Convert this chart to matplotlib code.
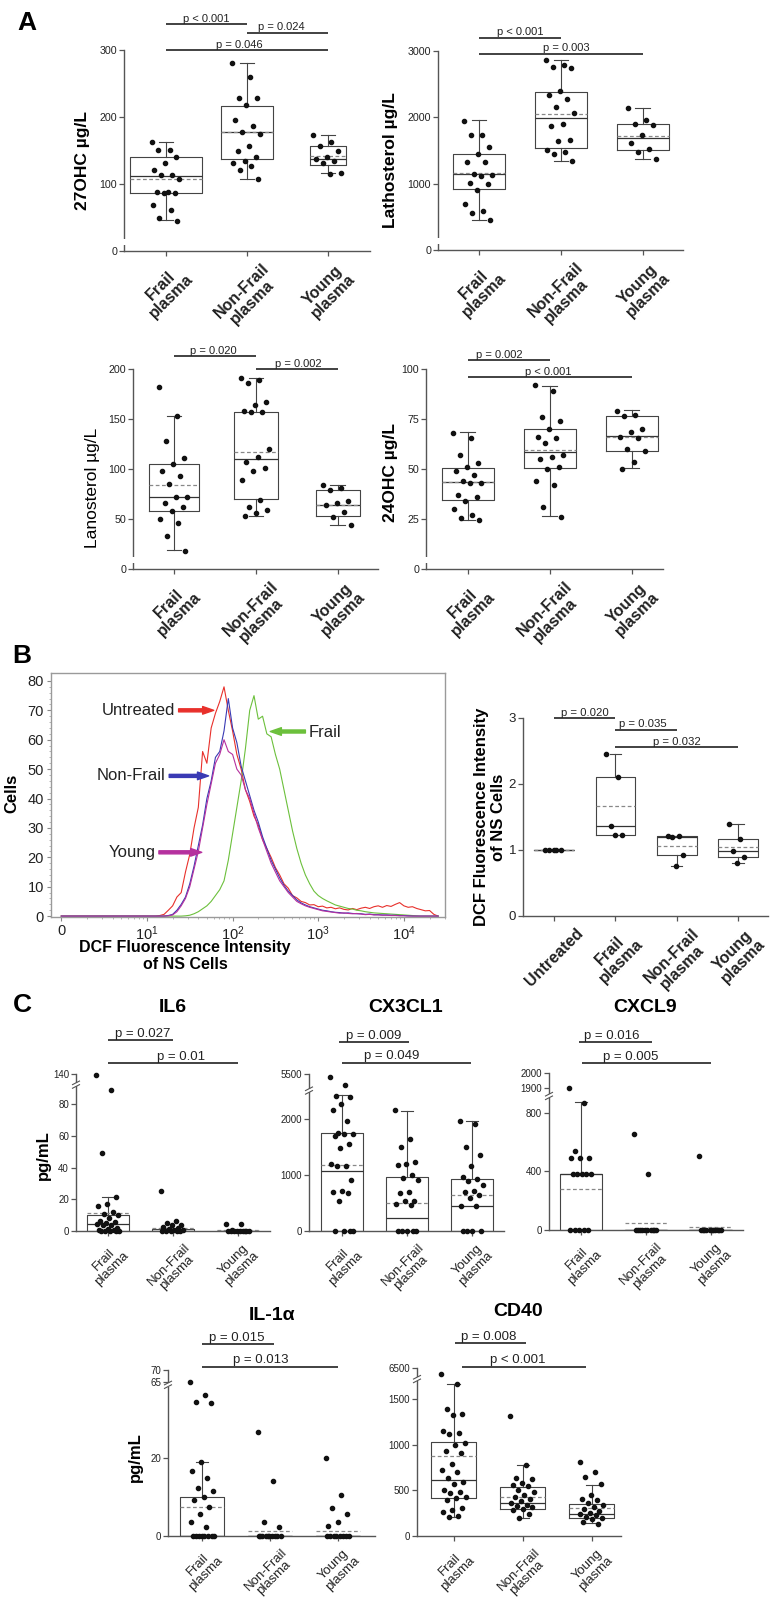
import numpy as np
import matplotlib
matplotlib.use("Agg")
import matplotlib.pyplot as plt
from matplotlib.transforms import blended_transform_factory

plt.rcParams["font.family"] = ["Liberation Sans", "DejaVu Sans"]
plt.rcParams["mathtext.fontset"] = "custom"
plt.rcParams["mathtext.rm"] = "Liberation Sans"
plt.rcParams["mathtext.it"] = "Liberation Sans:italic"
plt.rcParams["mathtext.bf"] = "Liberation Sans:bold"

# ---------------- data ----------------
groups = ["Frail\nplasma", "Non-Frail\nplasma", "Young\nplasma"]

# panel A: points per group, box = [q1, median, q3, whisker low, whisker high, mean]
oh27_pts = [[163, 151, 151, 140, 132, 121, 113, 113, 108, 88, 88, 87, 87, 68, 61, 50, 45],
            [280, 259, 229, 229, 218, 195, 187, 177, 175, 157, 149, 141, 135, 131, 127, 121, 108],
            [173, 163, 156, 150, 141, 138, 135, 131, 117, 115]]
oh27_box = [[86, 112, 140, 47, 163, 108], [137, 177, 216, 108, 280, 178], [129, 137, 156, 116, 173, 142]]
oh27_p = ["p < 0.001", "p = 0.024", "p = 0.046"]

lath_pts = [[1950, 1735, 1735, 1550, 1440, 1330, 1320, 1150, 1130, 1110, 1010, 1000, 910, 700, 590, 560, 450],
            [2860, 2790, 2760, 2740, 2390, 2340, 2280, 2160, 2065, 1905, 1875, 1655, 1640, 1505, 1480, 1445, 1345],
            [2140, 1955, 1905, 1880, 1735, 1615, 1520, 1480, 1365]]
lath_box = [[913, 1139, 1440, 452, 1957, 1154], [1535, 1997, 2383, 1340, 2870, 2047], [1505, 1681, 1906, 1365, 2142, 1716]]
lath_p = ["p < 0.001", "p = 0.003"]

lano_pts = [[182, 153, 128, 111, 105, 98, 93, 85, 72, 72, 66, 62, 58, 50, 46, 33, 18],
            [191, 189, 186, 167, 164, 158, 157, 157, 120, 112, 107, 101, 98, 89, 69, 62, 59, 56, 53],
            [84, 81, 79, 68, 66, 64, 57, 52, 44]]
lano_box = [[58, 72, 105, 19, 153, 84], [70, 110, 157, 53, 191, 117], [53, 64, 79, 44, 84, 64]]
lano_p = ["p = 0.020", "p = 0.002"]

oh24_pts = [[68, 65.5, 57, 53, 51, 49, 47, 44, 43, 43, 37, 36, 34, 30, 27, 25.5, 24.5],
            [92, 89, 76, 74, 70, 66, 65.5, 63, 57, 56, 55, 51, 50, 44, 42, 31, 26],
            [79, 77, 76.5, 70, 68.5, 66, 65.5, 60, 59, 53.5, 50]]
oh24_box = [[34.3, 43.7, 50.7, 24.7, 68.3, 43.5], [50.7, 58.5, 70.2, 26.3, 91.7, 59.5], [59.2, 66.7, 76.7, 50.3, 79.3, 66]]
oh24_p = ["p = 0.002", "p < 0.001"]

# panel B: flow cytometry histogram (x = log10 fluorescence)
hist_log = [0.0, 1.00, 1.05, 1.10, 1.15, 1.20, 1.25, 1.30, 1.35, 1.40,
            1.45, 1.50, 1.55, 1.60, 1.65, 1.70, 1.75, 1.80, 1.85, 1.90,
            1.95, 2.00, 2.05, 2.10, 2.15, 2.20, 2.25, 2.30, 2.35, 2.40,
            2.45, 2.50, 2.55, 2.60, 2.65, 2.70, 2.75, 2.80, 2.85, 2.90,
            2.95, 3.00, 3.05, 3.10, 3.15, 3.20, 3.25, 3.30, 3.35, 3.40,
            3.45, 3.50, 3.55, 3.60, 3.65, 3.70, 3.75, 3.80, 3.85, 3.90,
            3.95, 4.00, 4.05, 4.10, 4.15, 4.20, 4.25, 4.30, 4.35, 4.40]
cells_untreated = [0, 0, 0, 0, 0.2, 0.6, 2, 3.5, 6.5, 8,
                   15, 21, 30, 37, 56, 52, 64, 69, 73, 78,
                   70, 63, 55, 50, 43, 39, 34, 31, 26, 23,
                   20, 16.5, 14, 11, 9.5, 7, 6.2, 5, 4.6, 3.8,
                   3.9, 3.2, 3.4, 2.8, 3.0, 2.5, 2.8, 2.3, 2.1, 2.6,
                   2.2, 2.7, 3.0, 2.6, 3.2, 3.5, 3.0, 3.6, 3.3, 4.0,
                   4.6, 3.5, 3.0, 3.2, 2.6, 2.2, 1.8, 1.9, 0.6, 0]
cells_frail = [0, 0, 0, 0, 0, 0, 0, 0, 0, 0,
               0.1, 0.3, 0.8, 1.5, 2.5, 3.5, 5, 7, 9, 12,
               19, 28, 37, 46, 57, 70, 75, 67, 68, 62,
               61, 55, 50, 43, 36, 29, 23, 18, 14, 11,
               8.5, 7, 6, 5.2, 4.5, 3.8, 3.4, 3, 2.6, 2.4,
               2.0, 1.8, 1.5, 1.3, 1.1, 1.0, 0.9, 0.8, 0.7, 0.6,
               0.5, 0.4, 0.3, 0.2, 0.1, 0, 0, 0, 0, 0]
cells_nonfrail = [0, 0, 0, 0, 0, 0, 0.2, 0.6, 2, 4,
                  6.5, 11, 17, 24, 31, 40, 46, 54, 56, 63,
                  74, 64, 59, 51, 46, 41, 36, 32, 27, 23,
                  19, 16, 13, 10.5, 8.5, 7, 5.5, 4.5, 3.8, 3.2,
                  2.8, 2.4, 2.0, 1.8, 1.5, 1.3, 1.2, 1.0, 1.1, 0.9,
                  0.8, 0.8, 0.6, 0.7, 0.5, 0.5, 0.4, 0.4, 0.3, 0.3,
                  0.2, 0.2, 0.1, 0, 0, 0, 0, 0, 0, 0]
cells_young = [0, 0, 0, 0, 0, 0, 0.1, 0.4, 1.5, 3.5,
               6, 10, 16, 22, 30, 38, 45, 52, 55, 60,
               56, 55, 50, 48, 43, 40, 35, 30, 26, 22,
               18, 15, 12, 10, 8, 6.5, 5, 4.2, 3.5, 3,
               2.6, 2.2, 1.8, 1.6, 1.4, 1.2, 1.0, 1.1, 0.9, 0.8,
               0.9, 0.7, 0.5, 0.6, 0.4, 0.4, 0.3, 0.3, 0.2, 0.2,
               0.1, 0.1, 0, 0, 0, 0, 0, 0, 0, 0]
hist_labels = ["Untreated", "Frail", "Non-Frail", "Young"]
hist_colors = ["#e8302b", "#6cc03c", "#3a3ab4", "#b5309e"]

dcf_groups = ["Untreated", "Frail\nplasma", "Non-Frail\nplasma", "Young\nplasma"]
dcf_pts = [[1, 1, 1, 1, 1], [2.45, 2.1, 1.37, 1.23, 1.23], [1.21, 1.21, 1.19, 0.93, 0.76], [1.39, 1.17, 0.99, 0.9, 0.8]]
dcf_box = [[1, 1, 1, 1, 1, 1], [1.23, 1.37, 2.1, 1.23, 2.45, 1.67], [0.93, 1.2, 1.21, 0.76, 1.21, 1.06],
           [0.9, 0.98, 1.16, 0.8, 1.39, 1.05]]
dcf_p = ["p = 0.020", "p = 0.035", "p = 0.032"]

# panel C: cytokines (pg/mL)
il6_pts = [[138, 89, 49, 21.5, 17, 16, 12, 11, 10, 8, 6, 5.5, 5, 4.5, 4, 3.5, 2, 1, 0.5, 0.5, 0.3, 0.2, 0.1, 0, 0],
           [25, 6.5, 5, 4, 3.5, 2.5, 2, 1, 0.5, 0.5, 0.3, 0.2, 0, 0, 0],
           [4.5, 4.5, 0.5, 0.3, 0.2, 0, 0, 0, 0, 0, 0, 0]]
il6_box = [[0, 4.2, 9.9, 0, 21.7, 11.2], [0, 0.3, 1.0, 0, 1.0, 1.6], [0, 0, 0.2, 0, 0.2, 0.4]]
il6_p = ["p = 0.027", "p = 0.01"]

cx3_pts = [[5000, 3800, 2410, 2390, 2260, 2150, 1960, 1740, 1730, 1720, 1700, 1550, 1480, 1190, 1160, 1150,
            900, 720, 700, 680, 530, 0, 0, 0, 0],
           [2150, 1640, 1490, 1220, 1190, 1170, 1000, 940, 900, 700, 680, 540, 530, 475, 460, 0, 0, 0, 0, 0],
           [1950, 1910, 1490, 1360, 1160, 955, 920, 890, 820, 720, 700, 640, 580, 450, 440, 0, 0, 0, 0]]
cx3_box = [[0, 1060, 1740, 0, 2430, 1175], [0, 231, 961, 0, 2142, 492], [0, 451, 920, 0, 1964, 641]]
cx3_p = ["p = 0.009", "p = 0.049"]

cxcl9_pts = [[1900, 870, 540, 490, 490, 490, 380, 380, 380, 380, 380, 0, 0, 0, 0, 0],
             [655, 380, 0, 0, 0, 0, 0, 0, 0, 0, 0, 0],
             [505, 0, 0, 0, 0, 0, 0, 0, 0, 0, 0, 0]]
cxcl9_box = [[0, 380, 380, 0, 871, 280], [0, 0, 0, 0, 0, 45], [0, 0, 0, 0, 0, 20]]
cxcl9_p = ["p = 0.016", "p = 0.005"]

il1a_pts = [[65, 36, 34.3, 33.9, 19, 16.7, 14.9, 12.3, 11.5, 9.9, 9.2, 7.3, 5.5, 3.7, 2.4, 0, 0, 0, 0, 0, 0, 0, 0],
            [26.6, 14, 3.7, 2.4, 0, 0, 0, 0, 0, 0, 0, 0, 0, 0],
            [19.8, 10.4, 7.1, 5.6, 3.7, 2.6, 0, 0, 0, 0, 0, 0, 0, 0]]
il1a_box = [[0, 0, 9.9, 0, 18.9, 7.3], [0, 0, 0, 0, 0, 1.3], [0, 0, 0, 0, 0, 1.4]]
il1a_p = ["p = 0.015", "p = 0.013"]

cd40_pts = [[6250, 1660, 1390, 1340, 1320, 1145, 1130, 1120, 1015, 995, 930, 910, 790, 720, 700, 630, 595, 565,
             505, 485, 470, 430, 420, 395, 305, 285, 265, 220, 210],
            [1315, 775, 630, 620, 575, 555, 545, 505, 480, 450, 425, 410, 385, 360, 340, 330, 315, 295, 280, 240, 200],
            [815, 700, 645, 565, 445, 410, 395, 365, 340, 315, 295, 270, 250, 245, 225, 205, 200, 185, 155, 135]]
cd40_box = [[420, 617, 1023, 212, 1662, 870], [296, 358, 537, 201, 775, 424], [201, 237, 347, 139, 559, 303]]
cd40_p = ["p = 0.008", "p < 0.001"]

# ---------------- helpers ----------------
W, H = 772, 1605
fig = plt.figure(figsize=(W / 100, H / 100), dpi=100)
AX = "#555555"


def px_axes(left, right, top, bottom):
    return fig.add_axes([left / W, 1 - bottom / H, (right - left) / W, (bottom - top) / H])


def px_text(x, y, s, **kw):
    fig.text(x / W, 1 - y / H, s, **kw)


def style(ax, xlim, yticks, ylim, ysize):
    ax.set_xlim(*xlim)
    ax.set_yticks(yticks)
    ax.set_ylim(*ylim)
    ax.spines[["top", "right"]].set_visible(False)
    for s in ["left", "bottom"]:
        ax.spines[s].set_color(AX)
        ax.spines[s].set_linewidth(1.0)
    ax.tick_params(colors=AX, labelcolor="#222222", length=3.5, width=0.9)
    ax.tick_params(axis="y", labelsize=ysize, pad=1.5)


def draw_box(ax, pts, box, widths=0.64, jit=0.36):
    pos = list(range(1, len(box) + 1))
    stats = [dict(q1=b[0], med=b[1], q3=b[2], whislo=b[3], whishi=b[4], mean=b[5], fliers=[]) for b in box]
    line = dict(color="#444444", linewidth=0.8)
    ax.bxp(stats, positions=pos, widths=widths, capwidths=0.18, showmeans=True, meanline=True,
           showfliers=False, boxprops=line, whiskerprops=line, capprops=line,
           medianprops=dict(color="#333333", linewidth=0.9),
           meanprops=dict(color="#888888", linewidth=0.9, linestyle=(0, (3, 2))),
           manage_ticks=False)
    for p, vals in zip(pos, pts):
        off = ((np.arange(len(vals)) * 0.618034) % 1.0 - 0.5) * jit
        ax.plot(p + off, vals, "o", ms=3.0, color="#111111", zorder=4, clip_on=False)


def bracket(ax, x1, x2, yf, label, tx, fs):
    tr = blended_transform_factory(ax.transData, ax.transAxes)
    ax.plot([x1, x2], [yf, yf], color="#333333", lw=1.3, transform=tr, clip_on=False,
            solid_capstyle="butt")
    ax.annotate(label, xy=(tx, yf), xycoords=tr, xytext=(0, 0.3), textcoords="offset points",
                ha="center", va="bottom", fontsize=fs, color="#222222", annotation_clip=False)


def xlabels(ax, labels, size, weight):
    ax.set_xticks(range(1, len(labels) + 1))
    ax.set_xticklabels(labels, rotation=45, ha="center", va="top", rotation_mode="default",
                       multialignment="center", fontsize=size, fontweight=weight, linespacing=1.0)


# ---------------- panel A ----------------
a_specs = [
    ((124, 370, 50, 251), oh27_pts, oh27_box, [0.88, 0.65, 0.44], [0, 100, 200, 300], (0.48, 3.52),
     "27OHC µg/L", (83, 160), "bold", oh27_p, [(1, 2, 1.128, 1.50), (2, 3, 1.085, 2.43), (1, 3, 1.0, 1.91)]),
    ((438, 683, 51, 250), lath_pts, lath_box, 0.64, [0, 1000, 2000, 3000], (0.5, 3.49),
     "Lathosterol µg/L", (391, 160), "bold", lath_p, [(1, 2, 1.067, 1.5), (1, 3, 0.986, 2.06)]),
    ((133, 378, 369, 569), lano_pts, lano_box, [0.6, 0.54, 0.53], [0, 50, 100, 150, 200], (0.5, 3.49),
     "Lanosterol µg/L", (93, 488), "normal", lano_p, [(1, 2, 1.065, 1.48), (2, 3, 1.0, 2.52)]),
    ((426, 663, 369, 569), oh24_pts, oh24_box, 0.64, [0, 25, 50, 75, 100], (0.49, 3.38),
     "24OHC µg/L", (390, 472), "bold", oh24_p, [(1, 2, 1.045, 1.39), (1, 3, 0.959, 1.98)]),
]
for rect, pts, box, wd, yt, xl, ylab, lxy, lw_, pv, pairs in a_specs:
    ax = px_axes(*rect)
    draw_box(ax, pts, box, widths=wd)
    style(ax, xl, yt, (0, yt[-1]), 7.7)
    xlabels(ax, groups, 11.5, "bold")
    ax.plot([0, 0], [0.03, 0.06], transform=ax.transAxes, color="white", lw=3, zorder=5,
            clip_on=False, solid_capstyle="butt")
    px_text(lxy[0], lxy[1], ylab, rotation=90, ha="center", va="center", fontsize=12.5, fontweight=lw_)
    for (x1, x2, yf, tx), lab in zip(pairs, pv):
        bracket(ax, x1, x2, yf, lab, tx, 8)

# ---------------- panel B histogram ----------------
axh = px_axes(51, 445, 673, 917)
for ys, c in zip([cells_untreated, cells_frail, cells_nonfrail, cells_young], hist_colors):
    axh.plot(hist_log, ys, color=c, lw=0.8)
axh.set_xlim(-0.12, 4.48)
axh.set_ylim(-0.3, 82.7)
axh.set_xticks([0, 1, 2, 3, 4])
axh.set_xticklabels(["0", "$10^1$", "$10^2$", "$10^3$", "$10^4$"])
axh.set_xticks([d + np.log10(m) for d in range(5) for m in range(2, 10) if d + np.log10(m) < 4.48], minor=True)
axh.set_yticks(range(0, 81, 10))
axh.set_yticks(range(0, 81, 2), minor=True)
for s in axh.spines.values():
    s.set_color("#9a9a9a")
    s.set_linewidth(1.0)
axh.tick_params(which="major", colors="#888888", labelcolor="#222222", length=3, labelsize=10.5, pad=2)
axh.tick_params(which="minor", colors="#aaaaaa", length=1.5)

# text x, text y, alignment, arrow tail x, arrow head x, arrow y
hist_marks = [(1.33, 70.0, "right", 1.37, 1.78, 70.0),
              (2.89, 62.5, "left", 2.85, 2.44, 62.8),
              (1.22, 47.7, "right", 1.26, 1.72, 47.7),
              (1.10, 21.7, "right", 1.14, 1.64, 21.7)]
for lab, c, (tx, ty, ha, a0, a1, ay) in zip(hist_labels, hist_colors, hist_marks):
    axh.text(tx, ty, lab, ha=ha, va="center", fontsize=12, color="#222222")
    axh.annotate("", xy=(a1, ay), xytext=(a0, ay),
                 arrowprops=dict(arrowstyle="simple,head_length=0.8,head_width=0.55,tail_width=0.22",
                                 color=c, mutation_scale=10, shrinkA=0, shrinkB=0))
px_text(12, 793, "Cells", rotation=90, ha="center", va="center", fontsize=12, fontweight="bold")
px_text(185, 956, "DCF Fluorescence Intensity\nof NS Cells", ha="center", va="center", fontsize=11.5,
        fontweight="bold", linespacing=1.1)

# ---------------- panel B boxplot ----------------
axb = px_axes(523, 768, 718, 916)
draw_box(axb, dcf_pts, dcf_box, widths=0.65, jit=0.3)
style(axb, (0.49, 4.49), [0, 1, 2, 3], (0, 3), 9.5)
xlabels(axb, dcf_groups, 11.5, "bold")
for (x1, x2, yf, tx), lab in zip([(1, 2, 1.0, 1.5), (2, 3, 0.94, 2.45), (2, 4, 0.852, 3.0)], dcf_p):
    bracket(axb, x1, x2, yf, lab, tx, 8.2)
px_text(490, 817, "DCF Fluorescence Intensity\nof NS Cells", rotation=90, ha="center", va="center",
        fontsize=12, fontweight="bold", linespacing=1.1)

# ---------------- panel C ----------------
c_specs = [
    ("IL6", (76, 270, 1074, 1231), (0.51, 3.49), il6_pts, il6_box, [0, 20, 40, 60, 80, 140], (92.2, 125, 0.447),
     il6_p, [(1, 2, 1.217, 1.54), (1, 3, 1.068, 2.13)], (173, 1008), (43, 1155)),
    ("CX3CL1", (309, 504, 1074, 1231), (0.49, 3.49), cx3_pts, cx3_box, [0, 1000, 2000, 5500], (2500, 3000, 0.118),
     cx3_p, [(0.95, 2.03, 1.202, 1.48), (1.0, 2.98, 1.072, 1.76)], (406, 1008), None),
    ("CXCL9", (549, 743, 1073, 1230), (0.51, 3.5), cxcl9_pts, cxcl9_box, [0, 400, 800, 1900, 2000],
     (915, 1843, 1.0), cxcl9_p, [(0.97, 2.09, 1.195, 1.47), (1.02, 3.0, 1.062, 1.77)], (645, 1008), None),
    ("IL-1α", (168, 375, 1370, 1536), (0.5, 3.54), il1a_pts, il1a_box, [0, 20, 65, 70], (38.6, 63.7, 0.6),
     il1a_p, [(1.0, 2.05, 1.157, 1.51), (1.0, 3.0, 1.02, 1.86)], (272, 1315), (135, 1457)),
    ("CD40", (417, 621, 1368, 1536), (0.47, 3.42), cd40_pts, cd40_box, [0, 500, 1000, 1500, 6500],
     (1717, 6000, 0.242), cd40_p, [(1.02, 2.04, 1.147, 1.5), (1.12, 2.91, 1.008, 1.93)], (518, 1312), None),
]
for title, rect, xl, pts, box, yt, (L, U, k), pv, pairs, txy, lxy in c_specs:
    ax = px_axes(*rect)

    def fwd(y, L=L, U=U, k=k):
        y = np.asarray(y, dtype=float)
        return np.where(y <= L, y, L + np.maximum(y - U, 0) * k)

    def inv(y, L=L, U=U, k=k):
        y = np.asarray(y, dtype=float)
        return np.where(y <= L, y, U + (y - L) / k)

    ax.set_yscale("function", functions=(fwd, inv))
    draw_box(ax, pts, box, widths=0.65, jit=0.36)
    style(ax, xl, yt, (0, yt[-1]), 7)
    ax.set_yticklabels([str(t) for t in yt])
    ax.yaxis.set_minor_locator(matplotlib.ticker.NullLocator())
    xlabels(ax, groups, 9.5, "normal")
    # axis break mark
    h_px = rect[3] - rect[2]
    w_px = rect[1] - rect[0]
    yb = float(fwd(L)) / float(fwd(yt[-1]))
    dy, dx, sl = 1.8 / h_px, 3.5 / w_px, 1.8 / h_px
    ax.plot([0, 0], [yb - dy, yb + dy], transform=ax.transAxes, color="white", lw=3, zorder=5,
            clip_on=False, solid_capstyle="butt")
    for s in (-dy, dy):
        ax.plot([-dx, dx], [yb + s - sl, yb + s + sl], transform=ax.transAxes, color=AX, lw=0.8,
                zorder=6, clip_on=False)
    for (x1, x2, yf, tx), lab in zip(pairs, pv):
        bracket(ax, x1, x2, yf, lab, tx, 9.5)
    px_text(txy[0], txy[1], title, ha="center", va="center", fontsize=14, fontweight="bold")
    if lxy is not None:
        px_text(lxy[0], lxy[1], "pg/mL", rotation=90, ha="center", va="center", fontsize=12, fontweight="bold")

# panel letters
px_text(27, 23, "A", ha="center", va="center", fontsize=19, fontweight="bold")
px_text(22, 656, "B", ha="center", va="center", fontsize=19, fontweight="bold")
px_text(22, 1005, "C", ha="center", va="center", fontsize=19, fontweight="bold")

fig.savefig("out.png", dpi=100)
